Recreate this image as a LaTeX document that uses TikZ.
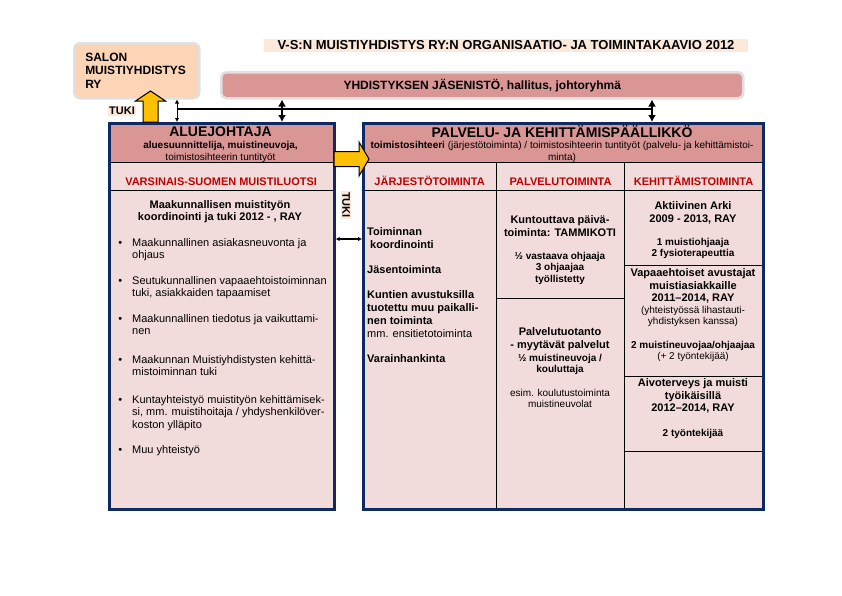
\documentclass[tikz,border=0pt]{standalone}
\usepackage{fontspec}
\setmainfont{Liberation Sans}
\usetikzlibrary{arrows.meta,positioning}
\definecolor{rosehead}{HTML}{D99694}
\definecolor{blush}{HTML}{F2DCDB}
\definecolor{peach}{HTML}{FBD5B5}
\definecolor{cream}{HTML}{FDE9D9}
\definecolor{navy}{HTML}{0F2A62}
\definecolor{luotsired}{HTML}{C00000}
\definecolor{amber}{HTML}{FFC000}
\newcommand{\chartbig}{\bfseries\fontsize{14}{15}\selectfont}
\newcommand{\chartbody}{\fontsize{11}{12.5}\selectfont}
\newcommand{\chartnote}{\fontsize{10}{11.5}\selectfont}
\tikzset{
  panel/.style={draw=navy,line width=2.6pt,anchor=north west,inner sep=0pt},
  cell/.style={draw=black,line width=1.2pt,fill=blush,anchor=north west,inner sep=0pt},
  headcell/.style={cell,fill=rosehead},
  colhead/.style={cell,font=\chartbody\bfseries,text=luotsired,text height=18pt,text depth=0pt},
  softbox/.style={draw=black!12,line width=2.5pt,rounded corners=6pt,anchor=north west},
  entry/.style={font=\chartbody,align=left,anchor=north west,inner sep=0pt},
  celltitle/.style={font=\chartbody\bfseries,align=center,anchor=north,inner sep=0pt},
  staff/.style={font=\chartnote\bfseries,align=center,anchor=north,inner sep=0pt},
  note/.style={font=\chartnote,align=center,anchor=north,inner sep=0pt},
  tukilabel/.style={fill=cream,font=\chartbody\bfseries,inner sep=1pt},
  thinlink/.style={{Latex[length=4pt,width=4.5pt]}-{Latex[length=4pt,width=4.5pt]},line width=0.9pt},
  thicklink/.style={{Latex[length=7pt,width=8pt]}-{Latex[length=7pt,width=8pt]},line width=2pt},
  fatarrow/.style={draw=black,fill=amber,line width=1pt}
}
\begin{document}
\begin{tikzpicture}[x=1pt,y=1pt]
  \useasboundingbox (0,0) rectangle (842,-595);

  % title and top boxes
  \node[fill=cream,font=\bfseries\fontsize{13}{15}\selectfont,inner xsep=14pt,inner ysep=1.5pt]
    (title) at (506,-45.5) {V-S:N MUISTIYHDISTYS RY:N ORGANISAATIO- JA TOIMINTAKAAVIO 2012};
  \node[softbox,fill=peach,minimum width=125pt,minimum height=55pt,text width=103pt,align=left,
    font=\bfseries\fontsize{12}{13.5}\selectfont] (salon) at (73,-42) {SALON\\MUISTIYHDISTYS\\RY};
  \node[softbox,fill=rosehead,rounded corners=5pt,minimum width=522pt,minimum height=26pt,
    font=\bfseries\fontsize{12}{14}\selectfont] (board) at (220,-71) {YHDISTYKSEN JÄSENISTÖ, hallitus, johtoryhmä};

  % left panel
  \node[headcell,minimum width=225pt,minimum height=40pt] (aluehead) at (108,-122) {};
  \node[colhead,minimum width=225pt,minimum height=28pt] (luotsi) at (108,-162) {VARSINAIS-SUOMEN MUISTILUOTSI};
  \node[cell,minimum width=225pt,minimum height=318pt] (aluebody) at (108,-190) {};
  \node[panel,minimum width=225pt,minimum height=386pt] (alue) at (108,-122) {};

  \node[font=\chartbig,inner sep=0pt] (aluetitle) at (220.5,-131.5) {ALUEJOHTAJA};
  \node[note] (aluesub) at (220.5,-141.5) {\textbf{aluesuunnittelija, muistineuvoja,}\\toimistosihteerin tuntityöt};
  \node[celltitle] (aluetask) at (220,-200) {Maakunnallisen muistityön\\koordinointi ja tuki 2012 - , RAY};
  \node[entry] (item1) at (132,-238) {\leavevmode\llap{\textbullet\hspace{10pt}}Maakunnallinen asiakasneuvonta ja\\ohjaus};
  \node[entry] (item2) at (132,-276) {\leavevmode\llap{\textbullet\hspace{10pt}}Seutukunnallinen vapaaehtoistoiminnan\\tuki, asiakkaiden tapaamiset};
  \node[entry] (item3) at (132,-314) {\leavevmode\llap{\textbullet\hspace{10pt}}Maakunnallinen tiedotus ja vaikuttami-\\nen};
  \node[entry] (item4) at (132,-355) {\leavevmode\llap{\textbullet\hspace{10pt}}Maakunnan Muistiyhdistysten kehittä-\\mistoiminnan tuki};
  \node[entry] (item5) at (132,-395) {\leavevmode\llap{\textbullet\hspace{10pt}}Kuntayhteistyö muistityön kehittämisek-\\si, mm. muistihoitaja / yhdyshenkilöver-\\koston ylläpito};
  \node[entry] (item6) at (132,-445) {\leavevmode\llap{\textbullet\hspace{10pt}}Muu yhteistyö};

  % right panel
  \node[headcell,minimum width=400pt,minimum height=40pt] (palvhead) at (362,-122) {};
  \node[colhead,minimum width=134pt,minimum height=28pt] (jarjhead) at (362,-162) {JÄRJESTÖTOIMINTA};
  \node[colhead,minimum width=128pt,minimum height=28pt] (palvcol) at (496,-162) {PALVELUTOIMINTA};
  \node[colhead,minimum width=138pt,minimum height=28pt] (kehhead) at (624,-162) {KEHITTÄMISTOIMINTA};
  \node[cell,minimum width=134pt,minimum height=318pt] (jarjbody) at (362,-190) {};
  \node[cell,minimum width=128pt,minimum height=108pt] (tammikoti) at (496,-190) {};
  \node[cell,minimum width=128pt,minimum height=210pt] (tuotanto) at (496,-298) {};
  \node[cell,minimum width=138pt,minimum height=75pt] (arki) at (624,-190) {};
  \node[cell,minimum width=138pt,minimum height=111pt] (avustajat) at (624,-265) {};
  \node[cell,minimum width=138pt,minimum height=75pt] (aivo) at (624,-376) {};
  \node[cell,minimum width=138pt,minimum height=57pt] (kehrest) at (624,-451) {};
  \node[panel,minimum width=400pt,minimum height=386pt] (palvelu) at (362,-122) {};

  \node[font=\chartbig,inner sep=0pt] (palvtitle) at (562,-131.5) {PALVELU- JA KEHITTÄMISPÄÄLLIKKÖ};
  \node[note] (palvsub) at (562,-141.5) {\textbf{toimistosihteeri} (järjestötoiminta) / toimistosihteerin tuntityöt (palvelu- ja kehittämistoi-\\minta)};
  \node[entry,font=\fontsize{11}{13}\selectfont\bfseries] (jarjtasks) at (367,-227.5) {Toiminnan\\\hspace*{3pt}koordinointi\\[12pt]Jäsentoiminta\\[12pt]Kuntien avustuksilla\\tuotettu muu paikalli-\\nen toiminta\\{\mdseries mm. ensitietotoiminta}\\[12pt]Varainhankinta};
  \node[celltitle,font=\fontsize{11}{13}\selectfont\bfseries] (tammititle) at (560,-215) {Kuntouttava päivä-\\toiminta: TAMMIKOTI};
  \node[staff] (tammistaff) at (560,-252) {½ vastaava ohjaaja\\3 ohjaajaa\\työllistetty};
  \node[celltitle] (tuotantotitle) at (560,-327.5) {Palvelutuotanto\\- myytävät palvelut};
  \node[staff] (tuotantostaff) at (560,-354) {½ muistineuvoja /\\kouluttaja};
  \node[note] (tuotantonote) at (560,-389) {esim. koulutustoiminta\\muistineuvolat};
  \node[celltitle] (arkititle) at (693,-201.5) {Aktiivinen Arki\\2009 - 2013, RAY};
  \node[staff] (arkistaff) at (693,-238) {1 muistiohjaaja\\2 fysioterapeuttia};
  \node[celltitle] (avustajattitle) at (693,-268.5) {Vapaaehtoiset avustajat\\muistiasiakkaille\\2011–2014, RAY};
  \node[note] (avustajatnote) at (693,-306) {(yhteistyössä lihastauti-\\yhdistyksen kanssa)};
  \node[staff] (avustajatstaff) at (693,-341) {2 muistineuvojaa/ohjaajaa\\{\mdseries (+ 2 työntekijää)}};
  \node[celltitle] (aivotitle) at (693,-378.5) {Aivoterveys ja muisti\\työikäisillä\\2012–2014, RAY};
  \node[staff] (aivostaff) at (693,-429) {2 työntekijää};

  % links
  \coordinate (busleft) at (177,-109);
  \coordinate (busmid) at (282,-109);
  \coordinate (busright) at (652,-109);
  \coordinate (sidelink) at (346,-239);
  \draw[line width=1.5pt] (busleft) -- (busright);
  \draw[thinlink] (salon.south -| busleft) -- (alue.north -| busleft);
  \draw[thicklink] (board.south -| busmid) -- (alue.north -| busmid);
  \draw[thicklink] (board.south -| busright) -- (palvelu.north -| busright);
  \draw[thinlink,line width=1.3pt] (alue.east |- sidelink) -- (palvelu.west |- sidelink);

  % yellow support arrows
  \coordinate (tukifoot) at (150.5,-122);
  \coordinate (handoff) at (334,-159);
  \filldraw[fatarrow] (tukifoot) ++(-7.5,0) -- ++(0,21) -- ++(-7.5,0) -- ++(15,10)
    -- ++(15,-10) -- ++(-7.5,0) -- ++(0,-21) -- cycle;
  \filldraw[fatarrow] (handoff) ++(0,7.5) -- ++(25,0) -- ++(0,9.5) -- ++(10,-17)
    -- ++(-10,-17) -- ++(0,9.5) -- ++(-25,0) -- cycle;
  \node[tukilabel] (tukiup) at (122,-111) {TUKI};
  \node[tukilabel,rotate=-90] (tukiside) at (346,-205) {TUKI};
\end{tikzpicture}
\end{document}
